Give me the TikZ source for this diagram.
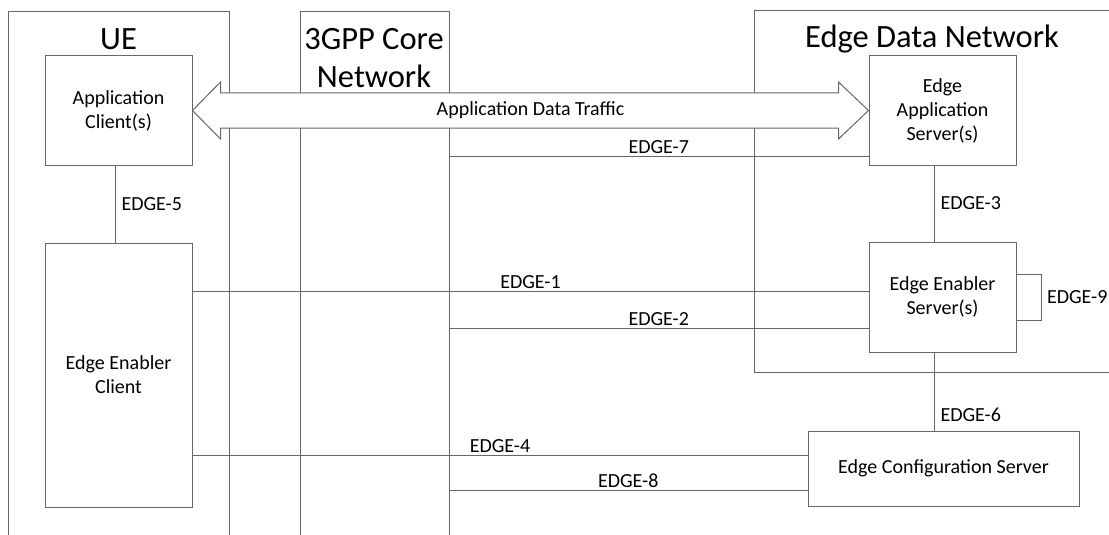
\documentclass[tikz,border=0pt]{standalone}
\usepackage{fontspec}
\setmainfont{Carlito}
\usetikzlibrary{calc}
\tikzset{
  link/.style={draw=black!60, line width=1pt},
  box/.style={link, align=center, inner sep=0pt, font=\fontsize{20}{24}\selectfont},
  title/.style={align=center, inner sep=0pt, font=\fontsize{32.5}{38}\selectfont},
  lbl/.style={inner sep=2pt, font=\fontsize{20}{24}\selectfont},
}
\begin{document}
\begin{tikzpicture}[x=1pt,y=-1pt]
\useasboundingbox (0,0) rectangle (1109,535);
% domains
\draw[link] (8,535) |- (229,12) -- (229,535);
\draw[link] (300,535) |- (449,12) -- (449,535);
\draw[link] (1109,11) -| (754,372) -- (1109,372);
\coordinate (core) at (449,12);
\node[title] (ue) at (118.5,39.5) {UE};
\node[title] (cn) at (374,58) {3GPP Core\\Network};
\node[title] (edn) at (932,39.5) {Edge Data Network};
% entities
\node[box, minimum width=147pt, minimum height=109pt] (acs) at (118.5,110.5) {Application\\Client(s)};
\node[box, minimum width=147pt, minimum height=264pt] (eec) at (118.5,375) {Edge Enabler\\Client};
\node[box, minimum width=147pt, minimum height=109pt] (eas) at (942.5,110.5) {Edge\\Application\\Server(s)};
\node[box, minimum width=147pt, minimum height=110pt] (ees) at (942.5,297) {Edge Enabler\\Server(s)};
\node[box, minimum width=271pt, minimum height=75pt] (ecs) at (943.5,468.5) {Edge Configuration Server};
% data traffic
\draw[link, fill=white] (acs.east) -- ++(28,-28.5) -- ++(0,11) -- ($(eas.west)+(-30,-17.5)$) -- ++(0,-11)
  -- (eas.west) -- ++(-30,28.5) -- ++(0,-11) -- ($(acs.east)+(28,17.5)$) -- ++(0,11) -- cycle;
\path (acs.east) -- (eas.west) node[lbl,midway] {Application Data Traffic};
% reference points
\coordinate (e1) at ([yshift=6pt]ees.west);
\coordinate (e2) at ([yshift=-31pt]ees.west);
\coordinate (e7) at ([yshift=-46pt]eas.west);
\coordinate (e4) at ([yshift=13pt]ecs.west);
\coordinate (e8) at ([yshift=-21.5pt]ecs.west);
\draw[link] (eec.east |- e1) -- (e1) node[lbl,midway,above] {EDGE-1};
\draw[link] (core |- e2) -- (e2) node[lbl,midway,above] {EDGE-2};
\draw[link] (core |- e7) -- (e7) node[lbl,midway,above] {EDGE-7};
\draw[link] (eec.east |- e4) -- (e4) node[lbl,midway,above] {EDGE-4};
\draw[link] (core |- e8) -- (e8) node[lbl,midway,above] {EDGE-8};
\draw[link] ([xshift=-3.5pt]acs.south) -- ([xshift=-3.5pt]eec.north) node[lbl,midway,right=4pt] {EDGE-5};
\draw[link] ([xshift=-8.5pt]eas.south) -- ([xshift=-8.5pt]ees.north) node[lbl,midway,right=4pt] {EDGE-3};
\draw[link] ([xshift=-8.5pt]ees.south) -- ([xshift=-9.5pt]ecs.north) node[lbl,pos=0.8,right=4pt] {EDGE-6};
\draw[link] ([yshift=23pt]ees.east) -- ++(25,0) |- ([yshift=-23pt]ees.east) node[lbl,pos=0.25,right=3pt] {EDGE-9};
\end{tikzpicture}
\end{document}
